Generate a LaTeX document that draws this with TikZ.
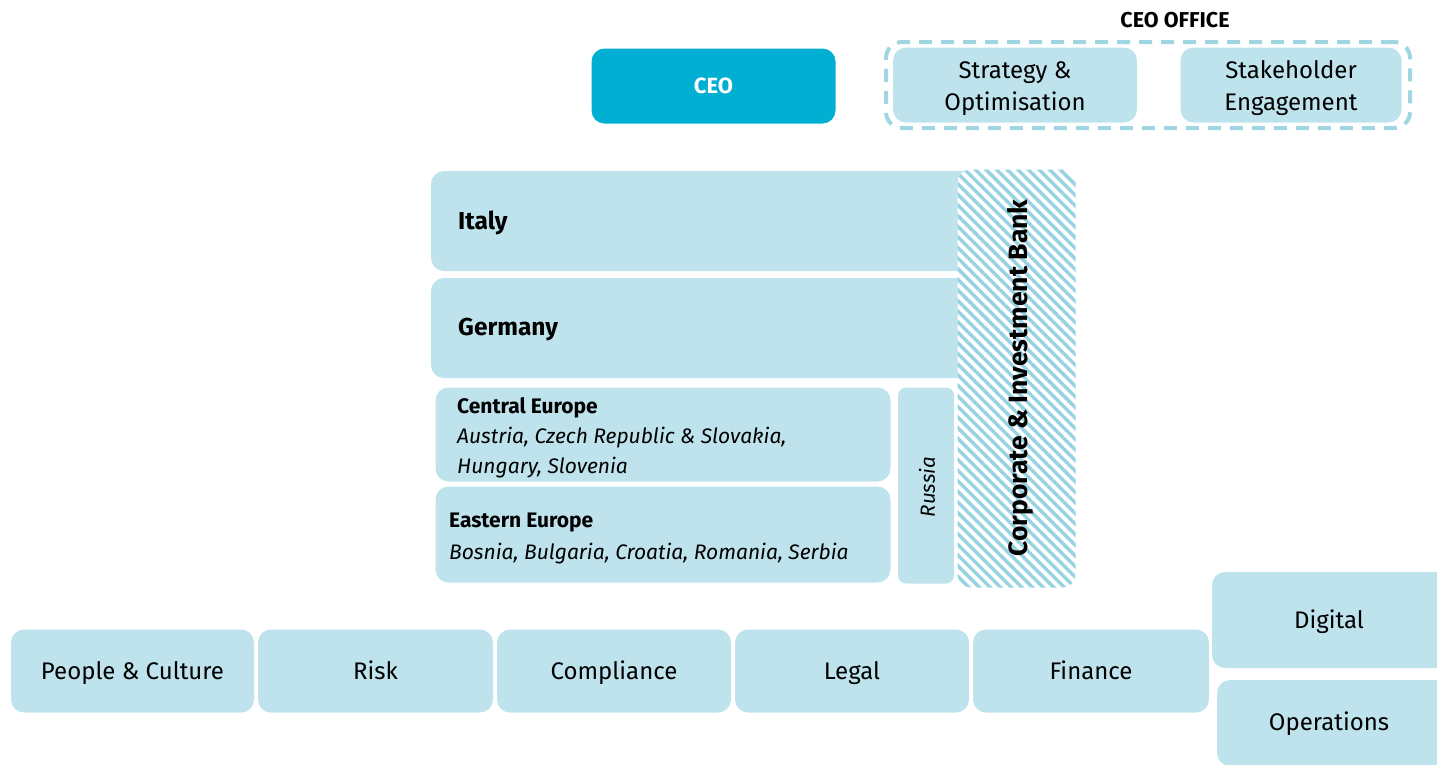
\documentclass[tikz,border=0pt]{standalone}
\usepackage{fontspec}
\setmainfont{Fira Sans}
\usetikzlibrary{positioning,patterns.meta}

\definecolor{ceoblue}{RGB}{0,175,210}
\definecolor{boxblue}{RGB}{190,227,236}
\definecolor{dashblue}{RGB}{160,214,226}
\definecolor{hatchblue}{RGB}{150,210,225}

\tikzset{
  unit/.style={rounded corners=13pt, fill=boxblue, draw=none, inner sep=0pt, outer sep=0pt, font=\fontsize{24}{32}\selectfont},
  oneline/.style={text height=16.5pt, text depth=0pt},
  region/.style={font=\fontsize{24.5}{28}\selectfont\bfseries, anchor=west, inner sep=0pt},
  subhead/.style={font=\fontsize{21}{30}\selectfont, anchor=north west, inner sep=0pt, align=left},
  plain/.style={inner sep=0pt, font=\fontsize{24}{32}\selectfont, align=center},
}

\begin{document}
\begin{tikzpicture}[x=1pt, y=-1pt]
  \useasboundingbox (0,0) rectangle (1437,764);

  % top
  \node[unit, fill=ceoblue, minimum width=244pt, minimum height=75pt, font=\fontsize{22}{26}\selectfont\bfseries, text=white, text height=15.5pt, text depth=0pt] (ceo) at (713.5,86) {CEO};
  \node[draw=dashblue, line width=4pt, dash pattern=on 13pt off 9pt, rounded corners=16pt, minimum width=524pt, minimum height=86pt, inner sep=0pt] (office) at (1148,85) {};
  \node[font=\fontsize{21.5}{26}\selectfont\bfseries, inner sep=0pt] (officelbl) at (1175,20) {CEO OFFICE};
  \node[unit, minimum width=244pt, minimum height=75pt] (strategy) at (1015,85) {};
  \node[plain] (strategytxt) at (1015,88.5) {Strategy \&\\Optimisation};
  \node[unit, minimum width=221pt, minimum height=75pt] (stake) at (1291,85) {};
  \node[plain] (staketxt) at (1291,88.5) {Stakeholder\\Engagement};

  % regions
  \node[unit, minimum width=560pt, minimum height=100pt] (italy) at (711,221) {};
  \node[region] (italytxt) at (458,223) {Italy};
  \node[unit, minimum width=560pt, minimum height=100pt] (germany) at (711,328) {};
  \node[region] (germanytxt) at (458,330) {Germany};

  \node[unit, minimum width=455pt, minimum height=94pt] (central) at (663,434.5) {};
  \node[subhead] (centraltxt) at (457,397) {\textbf{Central Europe}\\\itshape Austria, Czech Republic \& Slovakia,\\\itshape Hungary, Slovenia};
  \node[unit, minimum width=455pt, minimum height=96pt] (eastern) at (663,534.5) {};
  \node[subhead, font=\fontsize{21}{32}\selectfont] (easterntxt) at (449,513) {\textbf{Eastern Europe}\\\itshape Bosnia, Bulgaria, Croatia, Romania, Serbia};

  \node[unit, minimum width=56pt, minimum height=196pt, rounded corners=8pt] (russia) at (926,485.5) {};
  \node[rotate=90, font=\fontsize{20.5}{24}\selectfont\itshape, inner sep=0pt] (russiatxt) at (927,487) {Russia};

  % corporate & investment bank
  \node[rounded corners=13pt, fill=white, minimum width=118pt, minimum height=418pt, inner sep=0pt] (cibbg) at (1016.5,378.5) {};
  \node[rounded corners=13pt, pattern={Lines[angle=-45, distance=7.5pt, line width=3.4pt]}, pattern color=hatchblue, minimum width=118pt, minimum height=418pt, inner sep=0pt] (cib) at (1016.5,378.5) {};
  \node[rotate=90, font=\fontsize{26.5}{30}\selectfont\bfseries, inner sep=0pt] (cibtxt) at (1020,378) {Corporate \& Investment Bank};

  % functions
  \node[unit, oneline, minimum width=243pt, minimum height=83pt] (people) at (132.5,671) {People \& Culture};
  \node[unit, oneline, minimum width=235pt, minimum height=83pt, right=4pt of people] (risk) {Risk};
  \node[unit, oneline, minimum width=234pt, minimum height=83pt, right=4pt of risk] (compliance) {Compliance};
  \node[unit, oneline, minimum width=234pt, minimum height=83pt, right=4pt of compliance] (legal) {Legal};
  \node[unit, oneline, minimum width=236pt, minimum height=83pt, right=4pt of legal] (finance) {Finance};
  \node[unit, minimum width=240pt, minimum height=96pt] (digital) at (1332,620) {};
  \node[plain] (digitaltxt) at (1329,622) {Digital};
  \node[unit, minimum width=236pt, minimum height=86pt] (operations) at (1335,723) {};
  \node[plain] (operationstxt) at (1329,724) {Operations};
\end{tikzpicture}
\end{document}
